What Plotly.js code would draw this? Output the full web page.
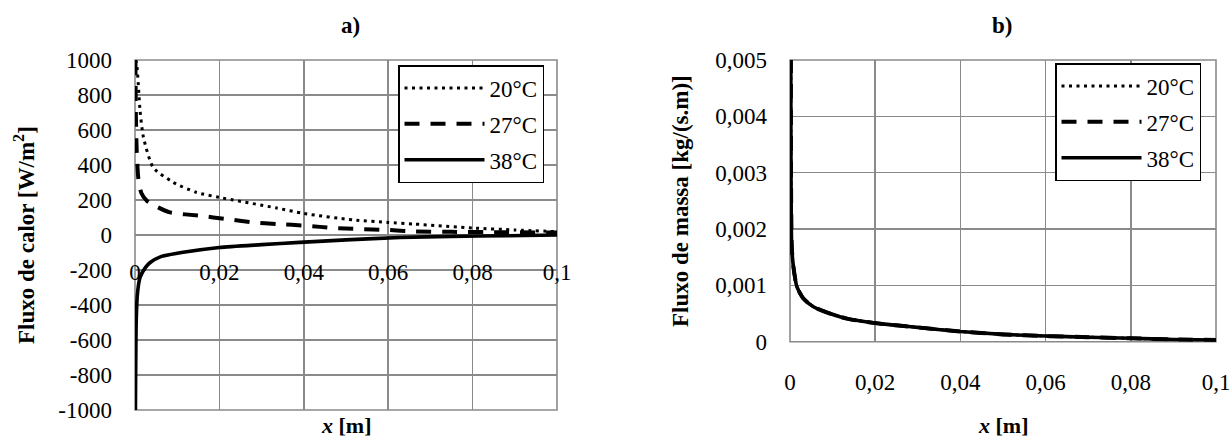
<!DOCTYPE html>
<html>
<head>
<meta charset="utf-8">
<script src="https://cdn.plot.ly/plotly-3.0.1.min.js"></script>
<style>html,body{margin:0;padding:0;background:#fff}#chart{width:1231px;height:439px}</style>
</head>
<body>
<div id="chart"></div>
<script>
// ---- data ----
const seriesNames = ["20°C", "27°C", "38°C"];

// a) heat flux [W/m2] vs x [m]
const heatX20 = [0.0001, 0.0004, 0.0012, 0.002, 0.0043, 0.0091, 0.0146, 0.02, 0.0336, 0.04, 0.0517, 0.06, 0.066, 0.08, 0.09, 0.1];
const heatY20 = [1000, 977, 710, 558, 386, 300, 243, 215, 154, 123, 86, 72, 63, 40, 29, 19];
const heatX27 = [0.0001, 0.0002, 0.0004, 0.0008, 0.0015, 0.0028, 0.0047, 0.0083, 0.0154, 0.0217, 0.028, 0.0336, 0.0407, 0.047, 0.053, 0.0596, 0.066, 0.075, 0.085, 0.1];
const heatY27 = [1000, 700, 480, 320, 240, 196, 167, 129, 110, 91, 72, 63, 53, 40, 34, 29, 21, 18, 16, 14];
const heatX38 = [0.0001, 0.0003, 0.0006, 0.0012, 0.0025, 0.0036, 0.006, 0.0114, 0.02, 0.03, 0.039, 0.05, 0.0628, 0.075, 0.088, 0.1];
const heatY38 = [-1000, -480, -330, -242, -185, -157, -125, -99, -71, -55, -42, -28, -14, -8, -4, 0];

// b) mass flux [kg/(s.m)] vs x [m] (the three curves coincide)
const massX = [0.0002, 0.0004, 0.0008, 0.0016, 0.0031, 0.0055, 0.0094, 0.0133, 0.02, 0.025, 0.0305, 0.04, 0.05, 0.06, 0.07, 0.08, 0.09, 0.1];
const massY20 = [0.0055, 0.0017, 0.00133, 0.00098, 0.00077, 0.00062, 0.0005, 0.00041, 0.00033, 0.00029, 0.00025, 0.00018, 0.00013, 0.0001, 0.00008, 0.00006, 0.00004, 0.00003];
const massY27 = [0.0055, 0.0017, 0.00133, 0.00098, 0.00077, 0.00062, 0.0005, 0.00041, 0.00033, 0.00029, 0.00025, 0.00018, 0.00013, 0.0001, 0.00008, 0.00006, 0.00004, 0.00003];
const massY38 = [0.0055, 0.0017, 0.00133, 0.00098, 0.00077, 0.00062, 0.0005, 0.00041, 0.00033, 0.00029, 0.00025, 0.00018, 0.00013, 0.0001, 0.00008, 0.00006, 0.00004, 0.00003];

// tick labels
const xTickVals = [0, 0.02, 0.04, 0.06, 0.08, 0.1];
const xTickText = ["0", "0,02", "0,04", "0,06", "0,08", "0,1"];
const heatTickVals = [-1000, -800, -600, -400, -200, 0, 200, 400, 600, 800, 1000];
const heatTickText = ["-1000", "-800", "-600", "-400", "-200", "0", "200", "400", "600", "800", "1000"];
const massTickVals = [0, 0.001, 0.002, 0.003, 0.004, 0.005];
const massTickText = ["0", "0,001", "0,002", "0,003", "0,004", "0,005"];

// ---- styling ----
const W = 1231, H = 439;
const FONT = "Liberation Serif";
const GRID = "#8a8a8a";
const styles = [
  {dash: "3px,4.5px", width: 3},
  {dash: "15px,11px", width: 4},
  {dash: "solid", width: 3.6}
];
const px = v => v / W, py = v => 1 - v / H;

const traces = [];
const heatX = [heatX20, heatX27, heatX38], heatY = [heatY20, heatY27, heatY38];
const massYs = [massY20, massY27, massY38];
for (let i = 0; i < 3; i++) {
  traces.push({
    type: "scatter", mode: "lines", x: heatX[i], y: heatY[i], name: seriesNames[i],
    xaxis: "x", yaxis: "y", legend: "legend", legendgroup: "a" + i,
    line: {color: "#000", width: styles[i].width, dash: styles[i].dash, shape: "spline", smoothing: 0.6},
    hoverinfo: "skip"
  });
}
for (let i = 0; i < 3; i++) {
  traces.push({
    type: "scatter", mode: "lines", x: massX, y: massYs[i], name: seriesNames[i],
    xaxis: "x2", yaxis: "y2", legend: "legend2", legendgroup: "b" + i,
    line: {color: "#000", width: styles[i].width, dash: styles[i].dash, shape: "spline", smoothing: 0.6},
    hoverinfo: "skip"
  });
}

const tickFont = {family: FONT, size: 23, color: "#000"};
const baseAx = {
  showgrid: true, gridcolor: GRID, gridwidth: 1.6, zeroline: false,
  showline: false, ticks: "", tickfont: tickFont, tickmode: "array", fixedrange: true
};
const legendBase = {
  xanchor: "left", yanchor: "top", bgcolor: "#fff", bordercolor: "#000", borderwidth: 1.5,
  font: {family: FONT, size: 23, color: "#000"}, itemwidth: 80, tracegroupgap: 3, traceorder: "grouped"
};
const titleFont = {family: FONT, size: 23, color: "#000"};
const ann = (text, x, y, extra) => Object.assign({
  text: text, xref: "paper", yref: "paper", x: px(x), y: py(y),
  xanchor: "center", yanchor: "middle", showarrow: false, borderpad: 0, font: titleFont
}, extra || {});
const xTitleFont = {family: FONT, size: 22, color: "#000"};

const layout = {
  width: W, height: H, margin: {l: 0, r: 0, t: 0, b: 0},
  paper_bgcolor: "#fff", plot_bgcolor: "#fff", showlegend: true,
  font: {family: FONT, color: "#000"},
  xaxis: Object.assign({}, baseAx, {
    domain: [px(135), px(557)], range: [0, 0.1], tickvals: xTickVals, ticktext: xTickText,
    anchor: "free", position: py(256)
  }),
  yaxis: Object.assign({}, baseAx, {
    domain: [py(410), py(60)], range: [-1000, 1000], tickvals: heatTickVals, ticktext: heatTickText,
    anchor: "x", ticklabelstandoff: 22
  }),
  xaxis2: Object.assign({}, baseAx, {
    domain: [px(790), px(1216)], range: [0, 0.1], tickvals: xTickVals, ticktext: xTickText,
    anchor: "free", position: py(366)
  }),
  yaxis2: Object.assign({}, baseAx, {
    domain: [py(341.7), py(60)], range: [0, 0.005], tickvals: massTickVals, ticktext: massTickText,
    anchor: "x2", ticklabelstandoff: 22
  }),
  legend: Object.assign({}, legendBase, {x: px(398), y: py(65)}),
  legend2: Object.assign({}, legendBase, {x: px(1055), y: py(63)}),
  shapes: [
    {type: "rect", xref: "x domain", yref: "y domain", x0: 0, x1: 1, y0: 0, y1: 1, line: {color: GRID, width: 1.6}, layer: "below"},
    {type: "line", xref: "x domain", yref: "y", x0: 0, x1: 1, y0: 0, y1: 0, line: {color: GRID, width: 1.6}, layer: "below"},
    {type: "rect", xref: "x2 domain", yref: "y2 domain", x0: 0, x1: 1, y0: 0, y1: 1, line: {color: GRID, width: 1.6}, layer: "below"}
  ],
  annotations: [
    ann("<b>a)</b>", 350, 25),
    ann("<b>b)</b>", 1002, 25),
    ann("<b><i>x</i> [m]</b>", 346, 425, {font: xTitleFont}),
    ann("<b><i>x</i> [m]</b>", 1003, 425, {font: xTitleFont}),
    ann("<b>Fluxo de calor [W/m<sup>2</sup>]</b>", 24, 235, {textangle: -90}),
    ann("<b>Fluxo de massa [kg/(s.m)]</b>", 680, 201, {textangle: -90})
  ]
};

Plotly.newPlot("chart", traces, layout, {staticPlot: true, displayModeBar: false});
</script>
</body>
</html>
